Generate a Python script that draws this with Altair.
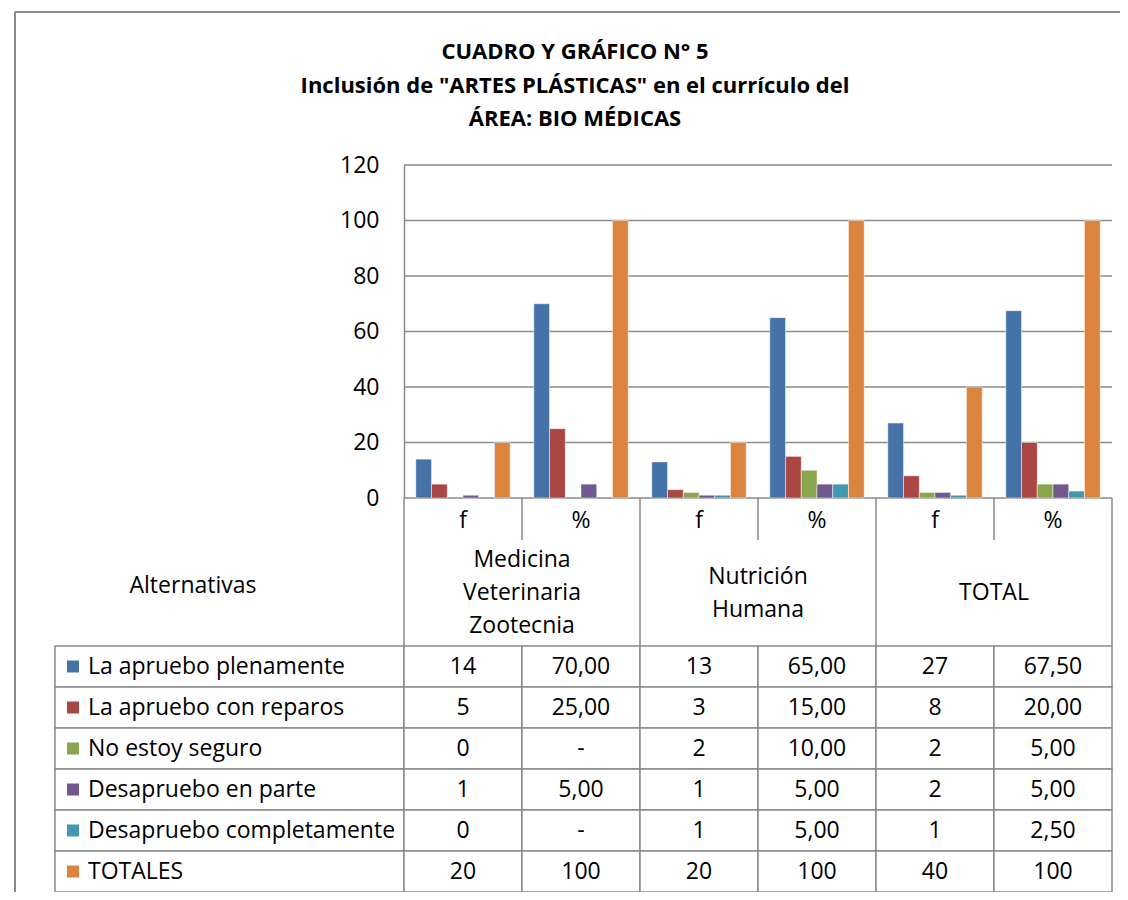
import altair as alt
import pandas as pd

# ---------------- data ----------------
series = ["La apruebo plenamente", "La apruebo con reparos", "No estoy seguro",
          "Desapruebo en parte", "Desapruebo completamente", "TOTALES"]
colors = ["#4572A7", "#AA4643", "#89A54E", "#71588F", "#4198AF", "#DB843D"]

columns = ["mvz_f", "mvz_p", "nh_f", "nh_p", "tot_f", "tot_p"]
column_labels = ["f", "%", "f", "%", "f", "%"]
group_lines = [["Medicina", "Veterinaria", "Zootecnia"], ["Nutrición", "Humana"], ["TOTAL"]]
group_split_cols = ["mvz_p", "nh_p", "tot_p"]

apruebo_plenamente = [14, 70.00, 13, 65.00, 27, 67.50]
apruebo_reparos = [5, 25.00, 3, 15.00, 8, 20.00]
no_seguro = [0, 0, 2, 10.00, 2, 5.00]
desapruebo_parte = [1, 5.00, 1, 5.00, 2, 5.00]
desapruebo_completo = [0, 0, 1, 5.00, 1, 2.50]
totales = [20, 100, 20, 100, 40, 100]

txt_plenamente = ["14", "70,00", "13", "65,00", "27", "67,50"]
txt_reparos = ["5", "25,00", "3", "15,00", "8", "20,00"]
txt_no_seguro = ["0", "-", "2", "10,00", "2", "5,00"]
txt_parte = ["1", "5,00", "1", "5,00", "2", "5,00"]
txt_completo = ["0", "-", "1", "5,00", "1", "2,50"]
txt_totales = ["20", "100", "20", "100", "40", "100"]

y_ticks = [0, 20, 40, 60, 80, 100, 120]

title_lines = ["CUADRO Y GRÁFICO N° 5",
               "Inclusión de \"ARTES PLÁSTICAS\" en el currículo del",
               "ÁREA: BIO MÉDICAS"]

# ---------------- tables ----------------
values = [apruebo_plenamente, apruebo_reparos, no_seguro, desapruebo_parte,
          desapruebo_completo, totales]
texts = [txt_plenamente, txt_reparos, txt_no_seguro, txt_parte, txt_completo, txt_totales]

bar_df = pd.DataFrame([{"series": s, "col": c, "value": v}
                       for s, vals in zip(series, values) for c, v in zip(columns, vals)])
cell_df = pd.DataFrame([{"series": s, "col": c, "txt": t}
                        for s, ts in zip(series, texts) for c, t in zip(columns, ts)])
series_df = pd.DataFrame({"series": series})
cols_df = pd.DataFrame({"col": columns, "sub": column_labels})
group_df = pd.DataFrame([{"col": c, "line": ln, "k": i - (len(lines) - 1) / 2}
                         for c, lines in zip(group_split_cols, group_lines)
                         for i, ln in enumerate(lines)])
title_df = pd.DataFrame([{"line": ln, "k": i - (len(title_lines) - 1) / 2}
                         for i, ln in enumerate(title_lines)])
one = pd.DataFrame({"a": [0]})

# ---------------- layout ----------------
F = "Open Sans"
FS = 23
GRAY = "#8a8a8a"
PLOT_W = 1057
PLOT_H = 727
X0 = 349      # width of the label column
BAR_H = 333   # height of the bar area
HEAD1 = 375   # bottom of f/% row
HEAD2 = 481   # bottom of group header row

xscale = alt.Scale(domain=columns, range=[X0, PLOT_W], paddingInner=0, paddingOuter=0)
x_enc = alt.X("col:N", scale=xscale, axis=None)
x_edge = alt.X("col:N", scale=xscale, axis=None, bandPosition=0)

ybar_scale = alt.Scale(domain=[0, 120], range=[BAR_H, 0], nice=False)
yaxis = alt.Axis(values=y_ticks, offset=-X0, ticks=False, grid=False, domain=True,
                 domainColor=GRAY, domainWidth=1.5, labelPadding=25, labelFont=F,
                 labelFontSize=FS, labelColor="black", title=None)
yrow = alt.Y("series:N", scale=alt.Scale(domain=series, range=[HEAD2, PLOT_H],
                                          paddingInner=0, paddingOuter=0), axis=None)
color_enc = alt.Color("series:N", scale=alt.Scale(domain=series, range=colors), legend=None)

grid = alt.Chart(pd.DataFrame({"v": y_ticks})).mark_rule(color=GRAY, strokeWidth=1.5).encode(
    y=alt.Y("v:Q", scale=ybar_scale, axis=yaxis),
    x=alt.value(X0), x2=alt.value(PLOT_W))

bars = alt.Chart(bar_df).transform_filter("datum.value > 0").mark_bar(
    stroke="white", strokeWidth=0.8, strokeOpacity=0.6).encode(
    x=x_enc,
    xOffset=alt.XOffset("series:N", scale=alt.Scale(domain=series, paddingInner=0, paddingOuter=0.75)),
    y=alt.Y("value:Q", scale=ybar_scale, axis=None),
    color=color_enc)

cells = alt.Chart(cell_df).mark_rect(fill="white", stroke=GRAY, strokeWidth=1.5).encode(
    x=x_enc, y=yrow)
label_cells = alt.Chart(series_df).mark_rect(fill="white", stroke=GRAY, strokeWidth=1.5).encode(
    x=alt.value(0), x2=alt.value(X0), y=yrow)
cell_text = alt.Chart(cell_df).mark_text(font=F, fontSize=FS, color="black", baseline="middle").encode(
    x=x_enc, y=yrow, text="txt:N")
keys = alt.Chart(series_df).mark_square(size=144, opacity=1).encode(
    x=alt.value(18), y=yrow, color=color_enc)
key_text = alt.Chart(series_df).mark_text(font=F, fontSize=FS, color="black", align="left",
                                          baseline="middle").encode(
    x=alt.value(33), y=yrow, text="series:N")

sub_text = alt.Chart(cols_df).mark_text(font=F, fontSize=FS, color="black", baseline="middle").encode(
    x=x_enc, y=alt.value(356), text="sub:N")
group_rules = alt.Chart(cols_df).transform_filter("datum.sub == 'f'").mark_rule(
    color=GRAY, strokeWidth=1.5).encode(x=x_edge, y=alt.value(BAR_H), y2=alt.value(HEAD2))
split_rules = alt.Chart(cols_df).transform_filter("datum.sub == '%'").mark_rule(
    color=GRAY, strokeWidth=1.5).encode(x=x_edge, y=alt.value(BAR_H), y2=alt.value(HEAD1))
right_rule = alt.Chart(one).mark_rule(color=GRAY, strokeWidth=1.5).encode(
    x=alt.value(PLOT_W), y=alt.value(BAR_H), y2=alt.value(HEAD2))
group_text = alt.Chart(group_df).mark_text(font=F, fontSize=FS, color="black",
                                           baseline="middle").encode(
    x=x_edge,
    y=alt.Y("k:Q", scale=alt.Scale(domain=[-1, 1], range=[395, 461]), axis=None),
    text="line:N")
alt_text = alt.Chart(one).mark_text(font=F, fontSize=FS, color="black", baseline="middle",
                                    text="Alternativas").encode(x=alt.value(138), y=alt.value(421))

title = alt.Chart(title_df).mark_text(font=F, fontSize=22, fontWeight="bold", color="black",
                                      baseline="middle").encode(
    x=alt.value(520),
    y=alt.Y("k:Q", scale=alt.Scale(domain=[-1, 1], range=[-113, -46]), axis=None),
    text="line:N")

frame_left = alt.Chart(one).mark_rule(color=GRAY, strokeWidth=2).encode(
    x=alt.value(-40), y=alt.value(-153), y2=alt.value(745))
frame_top = alt.Chart(one).mark_rule(color=GRAY, strokeWidth=2).encode(
    x=alt.value(-40), x2=alt.value(1090), y=alt.value(-153))

chart = alt.layer(
    grid, bars, label_cells, cells, cell_text, keys, key_text, sub_text,
    group_rules, split_rules, right_rule, group_text, alt_text, title, frame_left, frame_top
).resolve_scale(y="independent").properties(
    width=PLOT_W, height=PLOT_H,
    autosize=alt.AutoSizeParams(type="none"),
    padding={"left": 47, "top": 157, "right": 8, "bottom": 0},
).configure_view(stroke=None)

chart.save("out.html", embed_options={"renderer": "svg", "actions": False})
